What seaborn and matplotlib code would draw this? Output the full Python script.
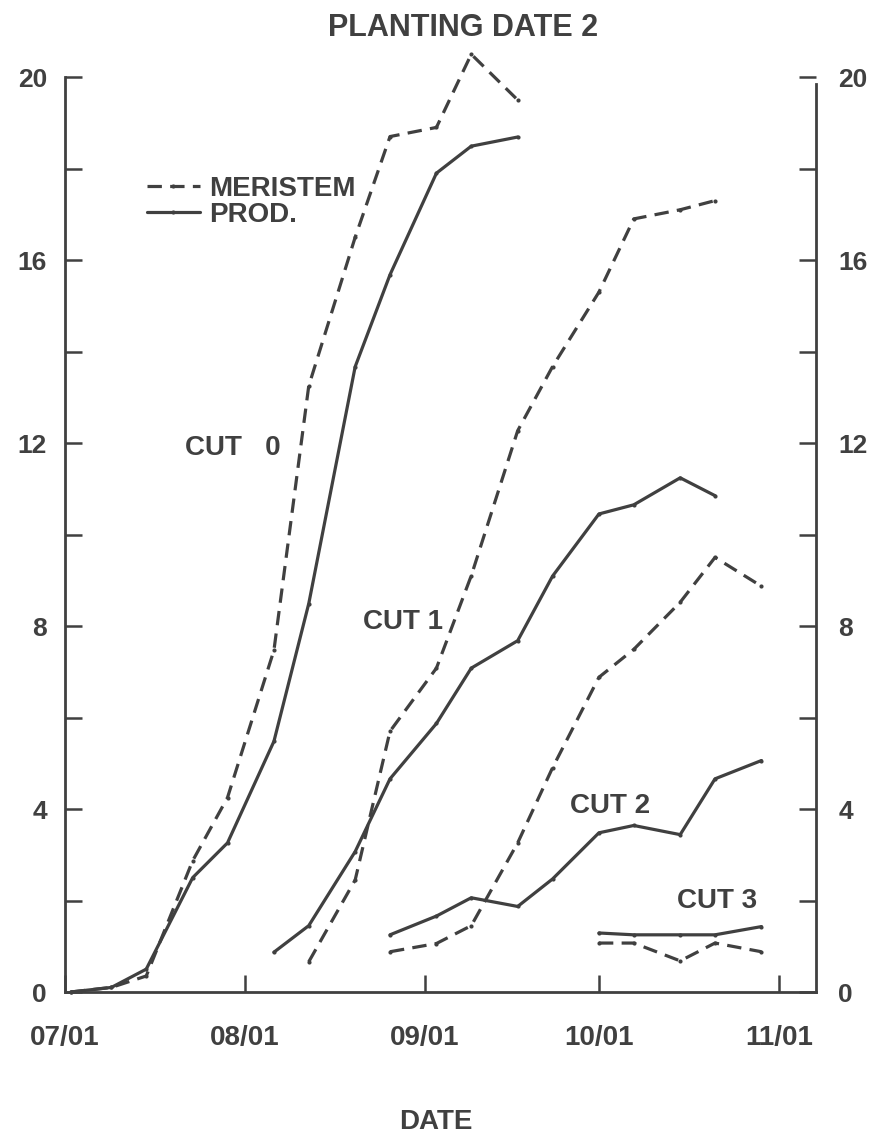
import numpy as np
import pandas as pd
import matplotlib
matplotlib.use("Agg")
import matplotlib.pyplot as plt
from matplotlib.lines import Line2D
from matplotlib.ticker import MultipleLocator, FixedLocator, FixedFormatter
import seaborn as sns

# ---------------- data ----------------
sample_dates = ["07/02", "07/09", "07/15", "07/23", "07/29", "08/06", "08/12",
                "08/20", "08/26", "09/03", "09/09", "09/17", "09/23", "10/01",
                "10/07", "10/15", "10/21", "10/29"]

cut0_meristem = [0.0, 0.1, 0.35, 2.87, 4.25, 7.47, 13.25, 16.5, 18.7, 18.9, 20.5, 19.5]
cut0_prod     = [0.0, 0.1, 0.5, 2.5, 3.26, 5.48, 8.49, 13.67, 15.68, 17.9, 18.49, 18.69]
cut1_meristem = [0.66, 2.45, 5.7, 7.08, 9.1, 12.27, 13.67, 15.3, 16.9, 17.1, 17.3]
cut1_prod     = [0.87, 1.45, 3.07, 4.66, 5.87, 7.08, 7.68, 9.09, 10.45, 10.65, 11.24, 10.85]
cut2_meristem = [0.88, 1.06, 1.45, 3.26, 4.9, 6.88, 7.49, 8.52, 9.5, 8.87]
cut2_prod     = [1.25, 1.66, 2.06, 1.87, 2.47, 3.48, 3.64, 3.44, 4.66, 5.06]
cut3_meristem = [1.07, 1.07, 0.68, 1.07, 0.88]
cut3_prod     = [1.29, 1.25, 1.25, 1.25, 1.43]

x_tick_labels = ["07/01", "08/01", "09/01", "10/01", "11/01"]
y_tick_values = [0, 4, 8, 12, 16, 20]
cut_labels = ["CUT   0", "CUT 1", "CUT 2", "CUT 3"]
title = "PLANTING DATE 2"
xlabel = "DATE"

# ---------------- helpers ----------------
month_start = {7: 0, 8: 31, 9: 62, 10: 92, 11: 123}

def to_day(s):
    m, d = s.split("/")
    return month_start[int(m)] + int(d) - 1

series = [
    ("CUT 0", "MERISTEM", cut0_meristem, 0),
    ("CUT 0", "PROD.", cut0_prod, 0),
    ("CUT 1", "MERISTEM", cut1_meristem, 6),
    ("CUT 1", "PROD.", cut1_prod, 5),
    ("CUT 2", "MERISTEM", cut2_meristem, 8),
    ("CUT 2", "PROD.", cut2_prod, 8),
    ("CUT 3", "MERISTEM", cut3_meristem, 13),
    ("CUT 3", "PROD.", cut3_prod, 13),
]
rows = []
for cut, kind, vals, start in series:
    for i, v in enumerate(vals):
        rows.append({"day": to_day(sample_dates[start + i]), "value": v,
                     "kind": kind, "unit": cut + kind})
df = pd.DataFrame(rows)

# ---------------- figure ----------------
sns.set_theme(style="white")
plt.rcParams["font.family"] = ["Liberation Sans", "DejaVu Sans"]
plt.rcParams["font.weight"] = "bold"
ink = "#404040"
FS = 20

fig = plt.figure(figsize=(8.84, 11.34), dpi=100)
ax = fig.add_axes([65 / 884, 1 - 992 / 1134, (816 - 65) / 884, (992 - 40.5) / 1134])

sns.lineplot(data=df, x="day", y="value", style="kind", units="unit",
             estimator=None, sort=False, color=ink, linewidth=2.3,
             dashes={"MERISTEM": (4.5, 2.6), "PROD.": ""},
             markers={"MERISTEM": ".", "PROD.": "."}, markersize=6,
             markeredgewidth=0, legend=False, ax=ax, clip_on=False)

ax.set_xlim(0, 129.4)
ax.set_ylim(0, 20.8)
ax.set_xlabel("")
ax.set_ylabel("")
ax.grid(False)

ax.spines["top"].set_visible(False)
ax.spines["right"].set_visible(False)
for s in ["left", "bottom"]:
    ax.spines[s].set_color(ink)
    ax.spines[s].set_linewidth(2.0)
ax.spines["left"].set_bounds(0, 20)

ax.xaxis.set_major_locator(FixedLocator([to_day(s) for s in x_tick_labels]))
ax.xaxis.set_major_formatter(FixedFormatter(x_tick_labels))
ax.yaxis.set_major_locator(FixedLocator(y_tick_values))
ax.yaxis.set_minor_locator(MultipleLocator(2))
ax.tick_params(axis="x", direction="in", length=12, width=1.8, color=ink,
               pad=24, labelsize=FS, labelcolor=ink, bottom=True)
ax.tick_params(axis="y", which="both", direction="in", length=12, width=1.8,
               color=ink, left=True)
ax.tick_params(axis="y", which="major", pad=13, labelsize=FS - 1, labelcolor=ink)

# right axis
ax2 = ax.twinx()
ax2.set_ylim(ax.get_ylim())
for s in ["top", "left", "bottom"]:
    ax2.spines[s].set_visible(False)
ax2.spines["right"].set_color(ink)
ax2.spines["right"].set_linewidth(2.0)
ax2.spines["right"].set_bounds(0, 19.85)
ax2.yaxis.set_major_locator(FixedLocator(y_tick_values))
ax2.yaxis.set_minor_locator(MultipleLocator(2))
ax2.tick_params(axis="y", which="both", direction="in", length=12, width=1.8,
                color=ink, right=True)
ax2.tick_params(axis="y", which="major", pad=16, labelsize=FS - 1, labelcolor=ink)
ax2.grid(False)

# cut annotations
cut_pos = [(20.6, 11.96), (51.3, 8.15), (87.0, 4.14), (105.5, 2.06)]
for lab, (xx, yy) in zip(cut_labels, cut_pos):
    ax.text(xx, yy, lab, fontsize=FS, color=ink, ha="left", va="center_baseline")

# legend
handles = [Line2D([], [], color=ink, lw=2.3, dashes=(4.5, 2.6), marker=".", ms=6, mew=0),
           Line2D([], [], color=ink, lw=2.3, marker=".", ms=6, mew=0)]
leg = ax.legend(handles, ["MERISTEM", "PROD."], loc="upper left",
                bbox_to_anchor=(0.0905, 0.872), frameon=False, fontsize=FS,
                handlelength=1.9, handletextpad=0.35, labelspacing=0.0,
                borderpad=0, labelcolor=ink)

fig.text(463 / 884, 1 - 25 / 1134, title, fontsize=FS + 2, color=ink,
         ha="center", va="center_baseline")
fig.text(436 / 884, 1 - 1119 / 1134, xlabel, fontsize=FS, color=ink,
         ha="center", va="center_baseline")

fig.savefig("out.png", dpi=100, facecolor="white")
